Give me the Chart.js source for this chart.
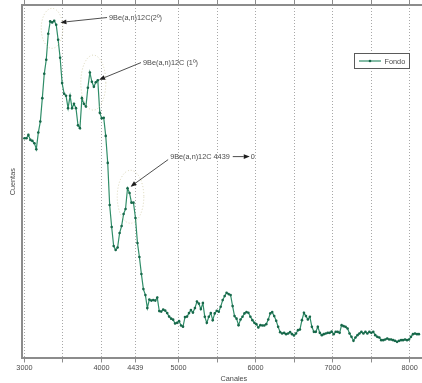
<!DOCTYPE html>
<html>
<head>
<meta charset="utf-8">
<script src="https://cdn.jsdelivr.net/npm/chart.js@4/dist/chart.umd.min.js"></script>
<style>
  html, body { margin: 0; padding: 0; background: #fff; overflow: hidden; width: 422px; height: 383px; }
  #wrap { position: absolute; left: 0; top: 0; width: 450px; height: 383px; }
</style>
</head>
<body>
<div id="wrap"><canvas id="c" width="450" height="383"></canvas></div>
<script>
// Background spectrum: channel number and counts per channel bin
const channels = [
  3000,3026,3051,3077,3103,3129,3154,3180,3206,3232,
  3257,3283,3309,3334,3360,3386,3412,3437,3463,3489,
  3515,3540,3566,3592,3618,3643,3669,3695,3720,3746,
  3772,3798,3823,3849,3875,3901,3926,3952,3978,4003,
  4029,4055,4081,4106,4132,4158,4184,4209,4235,4261,
  4287,4312,4338,4364,4389,4415,4441,4467,4492,4518,
  4544,4570,4595,4621,4647,4672,4698,4724,4750,4775,
  4801,4827,4853,4878,4904,4930,4955,4981,5007,5033,
  5058,5084,5110,5136,5161,5187,5213,5239,5264,5290,
  5316,5341,5367,5393,5419,5444,5470,5496,5522,5547,
  5573,5599,5624,5650,5676,5702,5727,5753,5779,5805,
  5830,5856,5882,5907,5933,5959,5985,6010,6036,6062,
  6088,6113,6139,6165,6191,6216,6242,6268,6293,6319,
  6345,6371,6396,6422,6448,6474,6499,6525,6551,6576,
  6602,6628,6654,6679,6705,6731,6757,6782,6808,6834,
  6860,6885,6911,6937,6962,6988,7014,7040,7065,7091,
  7117,7143,7168,7194,7220,7245,7271,7297,7323,7348,
  7374,7400,7426,7451,7477,7503,7528,7554,7580,7606,
  7631,7657,7683,7709,7734,7760,7786,7811,7837,7863,
  7889,7914,7940,7966,7992,8017,8043,8069,8095,8120
];
const counts = [
  2200,2200,2233,2183,2173,2150,2090,2256,2366,2600,
  2843,2983,3243,3366,3356,3373,3333,3183,3003,2750,
  2643,2623,2500,2623,2500,2543,2500,2328,2300,2600,
  2543,2516,2703,2856,2763,2713,2758,2778,2453,2398,
  2403,2223,1953,1533,1313,1123,1083,1108,1253,1323,
  1443,1493,1700,1653,1556,1556,1403,1153,1013,843,
  693,633,503,588,578,583,578,608,473,468,
  488,478,453,418,398,388,350,356,373,330,
  318,413,418,453,483,458,503,568,548,493,
  553,416,356,416,453,383,450,476,466,516,
  583,623,656,643,633,523,423,398,333,390,
  416,450,463,456,416,383,356,343,310,333,
  330,330,343,390,450,463,423,376,316,263,
  250,256,243,250,263,243,230,250,283,290,
  383,456,423,390,416,316,266,266,316,256,
  233,243,250,256,256,268,243,266,266,256,
  333,323,316,300,250,216,176,210,233,250,
  266,250,266,250,266,256,266,233,216,210,
  183,183,190,200,190,190,183,176,166,176,
  183,183,190,183,190,216,243,250,243,243
];
const seriesName = 'Fondo';

// Axis ticks: every 500 channels plus the 4439 keV line; only some carry a label
const tickValues = [3000, 3500, 4000, 4439, 5000, 5500, 6000, 6500, 7000, 7500, 8000];
const labelledTicks = [3000, 4000, 4439, 5000, 6000, 7000, 8000];

// Peak identifications (arrow tip and label anchor in channel / counts)
const peakNotes = [
  { text: '9Be(a,n)12C(2º)',  tip: [3467, 3356], at: [4098, 3400] },
  { text: '9Be(a,n)12C (1º)', tip: [3969, 2783], at: [4539, 2950] },
  { text: '9Be(a,n)12C 4439', tip: [4377, 1716], at: [4891, 2016], tail: '0' }
];
// Dotted rings around the identified peaks (centre in channel / counts)
const peakRings = [
  { centre: [3358, 3297], rx: 10.8, ry: 20 },
  { centre: [3894, 2755], rx: 12.5, ry: 27.5 },
  { centre: [4377, 1615], rx: 13.3, ry: 26.5 }
];

const FONT = '"Liberation Sans", Arial, sans-serif';
const LINE = '#2f8d68';
const MARK = '#17684a';
const AXIS = '#8c8c8c';
const TEXT = '#4a4a4a';

Chart.defaults.font.family = FONT;
Chart.defaults.font.size = 7.3;
Chart.defaults.color = TEXT;

function setTicks(scale) {
  scale.ticks = tickValues.map(v => ({ value: v }));
}

function arrow(ctx, x1, y1, x2, y2) {
  const ang = Math.atan2(y2 - y1, x2 - x1);
  const len = 6, half = 2.4;
  const bx = x2 - len * Math.cos(ang), by = y2 - len * Math.sin(ang);
  ctx.beginPath();
  ctx.moveTo(x1, y1);
  ctx.lineTo(bx, by);
  ctx.stroke();
  ctx.beginPath();
  ctx.moveTo(x2, y2);
  ctx.lineTo(bx + half * Math.sin(ang), by - half * Math.cos(ang));
  ctx.lineTo(bx - half * Math.sin(ang), by + half * Math.cos(ang));
  ctx.closePath();
  ctx.fill();
}

const notesPlugin = {
  id: 'peakNotes',
  afterDatasetsDraw(chart) {
    const { ctx } = chart;
    const xs = chart.scales.x, ys = chart.scales.y;
    const px = v => xs.getPixelForValue(v);
    const py = v => ys.getPixelForValue(v);
    ctx.save();
    // faint dotted rings
    ctx.strokeStyle = 'rgba(205,200,160,0.75)';
    ctx.lineWidth = 1;
    ctx.setLineDash([1, 2]);
    peakRings.forEach(r => {
      ctx.beginPath();
      ctx.ellipse(px(r.centre[0]), py(r.centre[1]), r.rx, r.ry, 0, 0, Math.PI * 2);
      ctx.stroke();
    });
    ctx.setLineDash([]);
    // labels with arrows
    ctx.font = '7.3px ' + FONT;
    ctx.textBaseline = 'middle';
    ctx.textAlign = 'left';
    ctx.strokeStyle = '#3a3a3a';
    ctx.fillStyle = '#2a2a2a';
    ctx.lineWidth = 0.9;
    peakNotes.forEach(n => {
      const tx = px(n.at[0]), ty = py(n.at[1]);
      const ax = px(n.tip[0]), ay = py(n.tip[1]);
      ctx.fillStyle = TEXT;
      ctx.fillText(n.text, tx, ty);
      ctx.fillStyle = '#1e1e1e';
      const sy = n.tail ? ty + 3 : ty - 0.5;
      arrow(ctx, tx - 2, sy, ax, ay);
      if (n.tail) {
        const w = ctx.measureText(n.text).width;
        const x0 = tx + w + 3;
        arrow(ctx, x0, ty, x0 + 17, ty);
        ctx.fillStyle = TEXT;
        ctx.fillText(n.tail, x0 + 18, ty);
      }
    });
    // legend box
    const lx = 354, ly = 53, lw = 55, lh = 15;
    ctx.fillStyle = '#fff';
    ctx.fillRect(lx, ly, lw, lh);
    ctx.strokeStyle = '#5a5a5a';
    ctx.lineWidth = 1;
    ctx.strokeRect(lx + 0.5, ly + 0.5, lw, lh);
    ctx.strokeStyle = LINE;
    ctx.lineWidth = 1.2;
    ctx.beginPath();
    ctx.moveTo(lx + 5, ly + 8);
    ctx.lineTo(lx + 27, ly + 8);
    ctx.stroke();
    ctx.fillStyle = MARK;
    ctx.beginPath();
    ctx.arc(lx + 16, ly + 8, 1.3, 0, Math.PI * 2);
    ctx.fill();
    ctx.fillStyle = TEXT;
    ctx.fillText(chart.data.datasets[0].label, lx + 30.5, ly + 8.5);
    ctx.restore();
  }
};

new Chart(document.getElementById('c'), {
  type: 'line',
  data: {
    datasets: [{
      label: seriesName,
      data: channels.map((ch, i) => ({ x: ch, y: counts[i] })),
      borderColor: LINE,
      borderWidth: 1.2,
      pointRadius: 1.3,
      pointBackgroundColor: MARK,
      pointBorderWidth: 0,
      tension: 0,
      fill: false
    }]
  },
  options: {
    responsive: false,
    animation: false,
    devicePixelRatio: 1,
    layout: { padding: { left: 8.5, right: 0, top: 0, bottom: 0 } },
    plugins: { legend: { display: false }, tooltip: { enabled: false } },
    scales: {
      x: {
        type: 'linear',
        position: 'bottom',
        min: 2965,
        max: 8472,
        afterBuildTicks: setTicks,
        ticks: {
          autoSkip: false,
          maxRotation: 0,
          padding: 1.5,
          color: TEXT,
          callback: v => labelledTicks.includes(v) ? String(v) : ''
        },
        grid: {
          display: true,
          color: '#a8a8a8',
          lineWidth: 1,
          drawTicks: true,
          tickLength: 4,
          tickColor: AXIS,
          tickBorderDash: []
        },
        border: { display: true, color: AXIS, width: 2, dash: [1, 2] },
        title: { display: true, text: 'Canales', color: TEXT, padding: { top: 0, bottom: 0 }, font: { size: 7.3 } }
      },
      x2: {
        type: 'linear',
        position: 'top',
        min: 2965,
        max: 8472,
        afterBuildTicks: setTicks,
        ticks: { display: false },
        grid: { display: true, drawOnChartArea: false, drawTicks: true, tickLength: 5, tickColor: AXIS },
        border: { display: true, color: AXIS, width: 2 }
      },
      y: {
        type: 'linear',
        min: 0,
        max: 3530,
        ticks: { display: false },
        grid: { display: false, drawTicks: false },
        border: { display: true, color: AXIS, width: 2 },
        title: { display: true, text: 'Cuentas', color: TEXT, padding: { top: 0, bottom: 4.5 }, font: { size: 7.3 } }
      }
    }
  },
  plugins: [notesPlugin]
});
</script>
</body>
</html>
